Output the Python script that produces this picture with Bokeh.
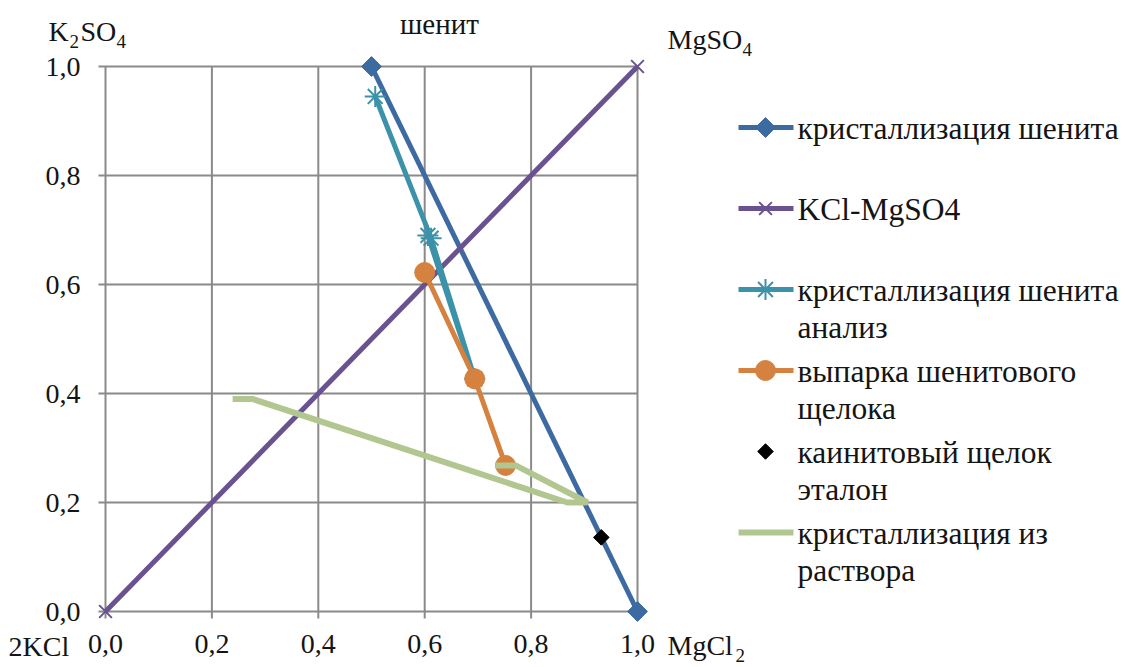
import numpy as np
from bokeh.plotting import figure
from bokeh.models import Range1d
from bokeh.embed import file_html
from bokeh.resources import INLINE
from bokeh.core.properties import value

FONT = "Liberation Serif"

# ---- data ----
ticks = [0.0, 0.2, 0.4, 0.6, 0.8, 1.0]
tick_labels = ["0,0", "0,2", "0,4", "0,6", "0,8", "1,0"]

shen_x = [0.5, 1.0]
shen_y = [1.0, 0.0]
kcl_x = [0.0, 1.0]
kcl_y = [0.0, 1.0]
anal_x = [0.507, 0.612, 0.694, 0.606]
anal_y = [0.945, 0.685, 0.427, 0.690]
vyp_x = [0.600, 0.694, 0.752]
vyp_y = [0.622, 0.427, 0.268]
kain_x = [0.932]
kain_y = [0.136]
rast_x = [0.239, 0.276, 0.868, 0.906, 0.771, 0.733]
rast_y = [0.390, 0.390, 0.200, 0.200, 0.268, 0.268]

names = ["кристаллизация шенита", "KCl-MgSO4", "кристаллизация шенита\nанализ",
         "выпарка шенитового\nщелока", "каинитовый щелок\nэталон", "кристаллизация из\nраствора"]

C_BLUE = "#3d6aa1"
C_PURPLE = "#6a5291"
C_TEAL = "#3c92a9"
C_ORANGE = "#d5813f"
C_BLACK = "#000000"
C_GREEN = "#b1c78f"
C_GRID = "#8a8a8a"
C_TEXT = "#141414"

# ---- one figure; frame covers the whole canvas; 0..1 maps to the plot square ----
W, H = 1123, 665
SX, SY = 532.0, 545.0
OX, OY = 105, 611   # canvas pixel of data origin


def dx(cx):
    return (cx - OX) / SX


def dy(cy):
    return (OY - cy) / SY


p = figure(frame_width=W, frame_height=H,
           x_range=Range1d(dx(0), dx(W)), y_range=Range1d(dy(H), dy(0)),
           min_border=0, toolbar_location=None, output_backend="svg",
           x_axis_location=None, y_axis_location=None)
p.grid.visible = False
p.outline_line_color = None
p.background_fill_color = "white"
p.border_fill_color = "white"

n = len(ticks)
# grid lines with small outside ticks
p.segment(x0=ticks, x1=ticks, y0=[-7 / SY] * n, y1=[1.0] * n, line_color=C_GRID, line_width=2)
p.segment(y0=ticks, y1=ticks, x0=[-7 / SX] * n, x1=[1.0] * n, line_color=C_GRID, line_width=2)


def txt(xs, ys, texts, size, align="left"):
    # ys: baselines in canvas px; drawn with 'middle' baseline at the glyph centre
    fs = float(size.replace("px", ""))
    p.text(x=xs, y=[dy(y - 0.34 * fs) for y in ys], text=texts, text_font=value(FONT),
           text_font_size=size, text_color=C_TEXT, text_align=align, text_baseline="middle")


# tick labels
txt([dx(80)] * n, [OY - t * SY + 10 for t in ticks], tick_labels, "28px", align="right")
txt(ticks, [653] * n, tick_labels, "28px", align="center")

# series
p.line(shen_x, shen_y, line_color=C_BLUE, line_width=5)
p.scatter(shen_x, shen_y, marker="square", angle=np.pi / 4, size=14,
          fill_color=C_BLUE, line_color=C_BLUE)
p.line(kcl_x, kcl_y, line_color=C_PURPLE, line_width=5)
p.scatter(kcl_x, kcl_y, marker="x", size=18, line_color=C_PURPLE, line_width=2)
p.line(anal_x, anal_y, line_color=C_TEAL, line_width=5)
p.scatter(anal_x, anal_y, marker="asterisk", size=21, line_color=C_TEAL, line_width=2)
p.line(vyp_x, vyp_y, line_color=C_ORANGE, line_width=5)
p.scatter(vyp_x, vyp_y, marker="circle", size=20, fill_color=C_ORANGE, line_color=C_ORANGE)
p.scatter(kain_x, kain_y, marker="square", angle=np.pi / 4, size=11,
          fill_color=C_BLACK, line_color=C_BLACK)
p.line(rast_x, rast_y, line_color=C_GREEN, line_width=6)

# corner / axis titles
big = [(48, 41, "K"), (80, 41, "SO"), (667, 49, "MgSO"), (667, 655, "MgCl"), (8, 656, "2KCl")]
sub = [(69, 47, "2"), (116, 47, "4"), (742, 55, "4"), (735, 661, "2")]
txt([dx(a) for a, b, c in big], [b for a, b, c in big], [c for a, b, c in big], "28px")
txt([dx(a) for a, b, c in sub], [b for a, b, c in sub], [c for a, b, c in sub], "19px")
txt([dx(439)], [33], ["шенит"], "29px", align="center")

# ---- legend ----
colors = [C_BLUE, C_PURPLE, C_TEAL, C_ORANGE, C_BLACK, C_GREEN]
has_line = [True, True, True, True, False, True]
markers = [("square", 14, np.pi / 4), ("x", 18, 0), ("asterisk", 21, 0),
           ("circle", 20, 0), ("square", 11, np.pi / 4), (None, 0, 0)]

for i, name in enumerate(names):
    gy = 127 + 81 * i
    c = colors[i]
    if has_line[i]:
        p.line([dx(738), dx(793)], [dy(gy), dy(gy)], line_color=c,
               line_width=6 if c == C_GREEN else 5)
    m, s, a = markers[i]
    if m is not None:
        if m in ("x", "asterisk"):
            p.scatter([dx(765)], [dy(gy)], marker=m, size=s, line_color=c, line_width=2)
        else:
            p.scatter([dx(765)], [dy(gy)], marker=m, size=s, angle=a, fill_color=c, line_color=c)
    lines = name.split("\n")
    txt([dx(797)] * len(lines), [gy + 12 + 37 * k for k in range(len(lines))], lines, "31.5px")

open("out.html", "w").write(file_html(p, INLINE))
